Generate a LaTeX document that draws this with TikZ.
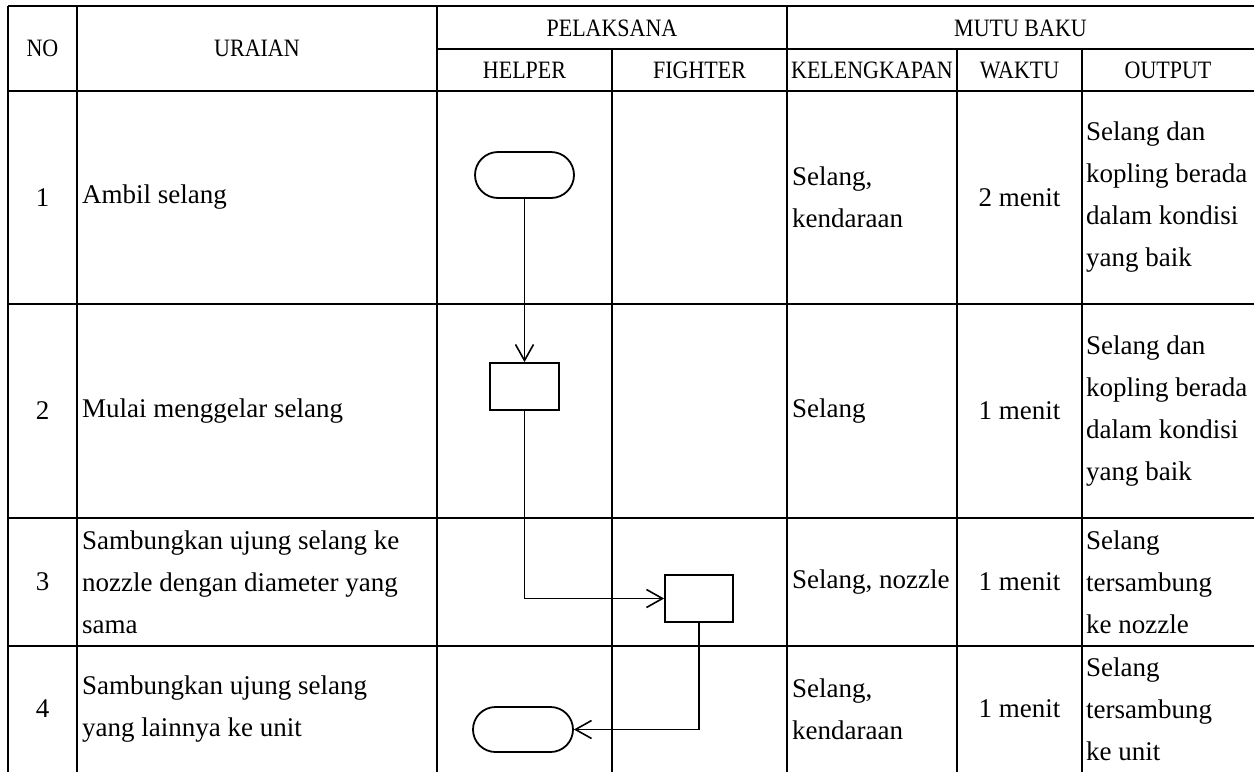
\documentclass[tikz,border=0pt]{standalone}
\usepackage{fontspec}
\setmainfont{Liberation Serif}
\newfontfamily\hdrfont[FakeStretch=0.88]{Liberation Serif}
\usetikzlibrary{shapes.misc,arrows.meta}
\tikzset{
  tbl/.style={line width=2pt},
  hdr/.style={font=\hdrfont\fontsize{25}{30}\selectfont, inner sep=0pt},
  bodyc/.style={font=\fontsize{27}{42}\selectfont, inner sep=0pt, align=center},
  bodyl/.style={font=\fontsize{27}{42}\selectfont, inner sep=0pt, align=left, anchor=west},
  procbox/.style={draw, line width=1.8pt, minimum width=69pt, minimum height=47pt, inner sep=0pt},
  termbox/.style={draw, rounded rectangle, line width=1.8pt, minimum width=99pt, minimum height=46pt, inner sep=0pt},
  flow/.style={line width=1.3pt, -{Straight Barb[length=16pt,width=18pt,line width=1.6pt]}}
}
\begin{document}
\begin{tikzpicture}[x=1pt,y=-1pt]
\useasboundingbox (0,0) rectangle (1254,772);
% grid
\draw[tbl] (8,6) -- (1254,6);
\draw[tbl] (437,49) -- (1254,49);
\draw[tbl] (8,91) -- (1254,91);
\draw[tbl] (8,304) -- (1254,304);
\draw[tbl] (8,518) -- (1254,518);
\draw[tbl] (8,646) -- (1254,646);
\draw[tbl] (8,6) -- (8,772);
\draw[tbl] (77,6) -- (77,772);
\draw[tbl] (437,6) -- (437,772);
\draw[tbl] (612,49) -- (612,772);
\draw[tbl] (787,6) -- (787,772);
\draw[tbl] (957,49) -- (957,772);
\draw[tbl] (1082,49) -- (1082,772);
% headers
\node[hdr] (hno) at (42.5,48.5) {NO};
\node[hdr] (hur) at (257,48.5) {URAIAN};
\node[hdr] (hpel) at (612,28) {PELAKSANA};
\node[hdr] (hmutu) at (1020.5,28) {MUTU BAKU};
\node[hdr] (hhelp) at (524.5,70) {HELPER};
\node[hdr] (hfight) at (699.5,70) {FIGHTER};
\node[hdr] (hkel) at (872,70) {KELENGKAPAN};
\node[hdr] (hwak) at (1019.5,70) {WAKTU};
\node[hdr] (hout) at (1168,70) {OUTPUT};
% row 1
\node[bodyc] (n1) at (42.5,197.5) {1};
\node[bodyl] (u1) at (82,197.5) {Ambil selang};
\node[bodyl] (k1) at (792,197.5) {Selang,\\kendaraan};
\node[bodyc] (w1) at (1019.5,197.5) {2 menit};
\node[bodyl] (o1) at (1086,197.5) {Selang dan\\kopling berada\\dalam kondisi\\yang baik};
% row 2
\node[bodyc] (n2) at (42.5,411) {2};
\node[bodyl] (u2) at (82,411) {Mulai menggelar selang};
\node[bodyl] (k2) at (792,411) {Selang};
\node[bodyc] (w2) at (1019.5,411) {1 menit};
\node[bodyl] (o2) at (1086,411) {Selang dan\\kopling berada\\dalam kondisi\\yang baik};
% row 3
\node[bodyc] (n3) at (42.5,582) {3};
\node[bodyl] (u3) at (82,582) {Sambungkan ujung selang ke\\nozzle dengan diameter yang\\sama};
\node[bodyl] (k3) at (792,582) {Selang, nozzle};
\node[bodyc] (w3) at (1019.5,582) {1 menit};
\node[bodyl] (o3) at (1086,582) {Selang\\tersambung\\ke nozzle};
% row 4
\node[bodyc] (n4) at (42.5,709) {4};
\node[bodyl] (u4) at (82,709) {Sambungkan ujung selang\\yang lainnya ke unit};
\node[bodyl] (k4) at (792,709) {Selang,\\kendaraan};
\node[bodyc] (w4) at (1019.5,709) {1 menit};
\node[bodyl] (o4) at (1086,709) {Selang\\tersambung\\ke unit};
% flow shapes
\node[termbox] (t1) at (524.5,175) {};
\node[procbox] (r2) at (524.5,386.5) {};
\node[procbox, minimum width=68pt] (r3) at (699,598.5) {};
\node[termbox, minimum width=100pt, minimum height=45pt] (t4) at (523,729.5) {};
% connectors
\draw[flow] (t1.south) -- (r2.north);
\draw[flow] (r2.south) |- (r3.west);
\draw[flow] (r3.south) |- (t4.east);
\end{tikzpicture}
\end{document}
